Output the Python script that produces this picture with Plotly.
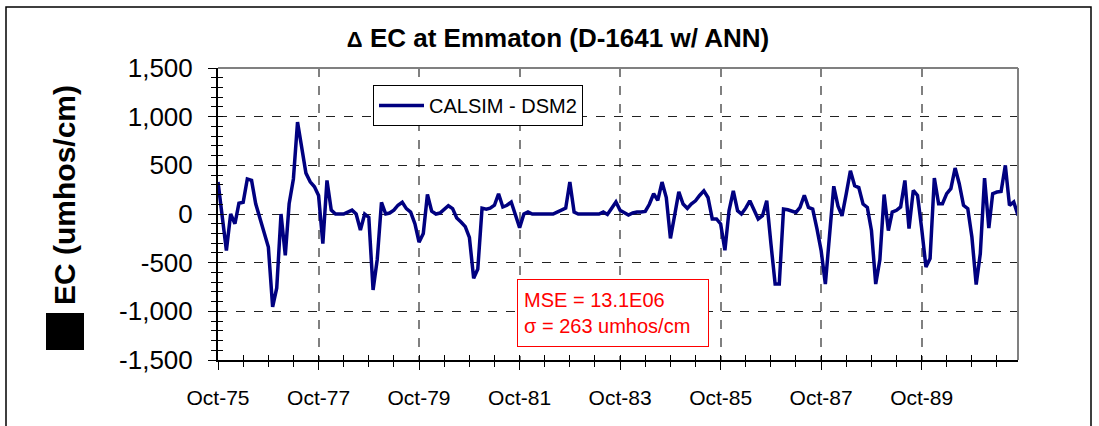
import pandas as pd
import plotly.graph_objects as go

# ---- data (monthly, Oct-75 .. Sep-91), CALSIM minus DSM2 EC at Emmaton ----
start_month = "1975-10-01"
wy1976_1979 = [330, -20, -375, 0, -100, 110, 120, 360, 345, 105,
               -40, -190, -340, -955, -760, 0, -425, 105, 360, 945,
               680, 420, 330, 280, 190, -305, 345, 40, 0, 0,
               0, 20, 40, 0, -165, 0, -35, -780, -470, 120,
               0, 10, 40, 90, 120, 55, 20, -100]
wy1980_1983 = [-290, -200,
               200, 30, 0, 10, 50, 85, 55, -40, -82, -130,
               -240, -660, -565, 60, 50, 60, 90, 208, 72, 90,
               123, -15, -140, 0, 20, 0, 0, 0, 0, 0,
               0, 20, 38, 60, 328, 20, 0, 0, 0, 0,
               0, 0, 20, -5, 60, 123]
wy1984_1987 = [38, 15, -10, 10,
               20, 20, 27, 100, 208, 140, 328, 170, -250, -10,
               227, 102, 58, 102, 136, 190, 237, 170, -51, -51,
               -102, -373, 34, 237, 34, 0, 60, 136, 34, -51,
               -17, 136, -300, -720, -720, 51, 44, 30, 17, 68,
               193, 68, 51, -153]
wy1988_1991 = [-373, -720, -200, 285, 80, -20,
               210, 445, 290, 271, 102, 68, -170, -720, -470, 200,
               -170, 20, 38, 72, 345, -150, 243, 191, -150, -544,
               -458, 369, 106, 106, 209, 260, 472, 311, 89, 55,
               -236, -725, -407, 369, -144, 209, 226, 232, 500, 89,
               123, -14]

x_tick_dates = ["1975-10-01", "1977-10-01", "1979-10-01", "1981-10-01",
                "1983-10-01", "1985-10-01", "1987-10-01", "1989-10-01"]
x_tick_labels = ["Oct-75", "Oct-77", "Oct-79", "Oct-81",
                 "Oct-83", "Oct-85", "Oct-87", "Oct-89"]
y_tick_vals = [-1500, -1000, -500, 0, 500, 1000, 1500]
y_tick_labels = ["-1,500", "-1,000", "-500", "0", "500", "1,000", "1,500"]

series_name = "CALSIM - DSM2"
title_text = "<span style='font-size:22px'>Δ</span> EC at Emmaton (D-1641 w/ ANN)"
y_title = "EC (umhos/cm)"
stats_text = "MSE = 13.1E06<br>σ = 263 umhos/cm"

values = wy1976_1979 + wy1980_1983 + wy1984_1987 + wy1988_1991
months = pd.date_range(start_month, periods=len(values), freq="MS")

# ---- layout geometry (pixels) ----
W, H = 1099, 426
L, R, T, B = 218, 81, 68, 66
PW, PH = W - L - R, H - T - B


def px_x(x):
    return (x - L) / PW


def px_y(y):
    return (H - B - y) / PH


FONT = "Arial, Liberation Sans, sans-serif"
x_range = ["1975-10-01", "1991-09-01"]
y_range = [-1500, 1500]

fig = go.Figure()
fig.add_trace(go.Scatter(x=months, y=values, mode="lines", name=series_name,
                         line=dict(color="#000080", width=3.5)))
# empty trace carrying the overlay axes (inside half of the crossing ticks)
fig.add_trace(go.Scatter(x=[], y=[], xaxis="x2", yaxis="y2", showlegend=False,
                         hoverinfo="skip"))

fig.update_layout(
    width=W, height=H,
    margin=dict(l=L, r=R, t=T, b=B),
    paper_bgcolor="white", plot_bgcolor="white",
    font=dict(family=FONT, color="black"),
    title=dict(text="<b>" + title_text + "</b>", xref="container",
               x=558 / W, xanchor="center",
               y=1 - 38 / H, yanchor="middle", yref="container",
               font=dict(size=26, family=FONT, color="black")),
    showlegend=True,
    legend=dict(x=px_x(373), y=px_y(85), xanchor="left", yanchor="top",
                bgcolor="white", bordercolor="black", borderwidth=1,
                font=dict(size=20, family=FONT, color="black"),
                itemwidth=45),
    xaxis=dict(type="date", range=x_range, tickmode="array",
               tickvals=x_tick_dates, ticktext=x_tick_labels,
               tickfont=dict(size=21, family=FONT, color="black"),
               ticks="outside", ticklen=8, tickcolor="black", tickwidth=1,
               ticklabelstandoff=10,
               showline=True, linecolor="black", linewidth=2,
               showgrid=True, gridcolor="#808080", gridwidth=1.5, griddash="dash",
               minor=dict(dtick="M6", tick0="1975-10-01", ticks="outside",
                          ticklen=5, tickcolor="black", showgrid=False),
               zeroline=False),
    yaxis=dict(range=y_range, tickmode="array", tickvals=y_tick_vals,
               ticktext=y_tick_labels,
               tickfont=dict(size=26, family=FONT, color="black"),
               ticks="outside", ticklen=8, tickcolor="black", tickwidth=1,
               ticklabelstandoff=10,
               showline=True, linecolor="black", linewidth=2,
               showgrid=True, gridcolor="#222222", gridwidth=1, griddash="dash",
               minor=dict(dtick=100, tick0=0, ticks="outside", ticklen=5,
                          tickcolor="black", showgrid=False),
               zeroline=False),
    xaxis2=dict(type="date", overlaying="x", anchor="y", side="bottom",
                range=x_range, showticklabels=False, showgrid=False,
                zeroline=False, showline=False,
                tickmode="array", tickvals=x_tick_dates,
                ticks="inside", ticklen=5, tickcolor="black",
                minor=dict(dtick="M6", tick0="1975-10-01", ticks="inside",
                           ticklen=5, tickcolor="black", showgrid=False)),
    yaxis2=dict(overlaying="y", anchor="x", side="left", range=y_range,
                showticklabels=False, showgrid=False, zeroline=False,
                showline=False, tickmode="array", tickvals=y_tick_vals,
                ticks="inside", ticklen=5, tickcolor="black",
                minor=dict(dtick=100, tick0=0, ticks="inside", ticklen=5,
                           tickcolor="black", showgrid=False)),
)

shapes = [
    # grey top and right border of the plot area
    dict(type="line", xref="paper", yref="paper", x0=0, x1=1, y0=1, y1=1,
         line=dict(color="#808080", width=2)),
    dict(type="line", xref="paper", yref="paper", x0=1, x1=1, y0=0, y1=1,
         line=dict(color="#808080", width=2)),
    # outer chart border
    dict(type="rect", xref="paper", yref="paper",
         x0=px_x(6), x1=px_x(1091), y0=px_y(440), y1=px_y(7),
         line=dict(color="black", width=1.5), layer="below"),
    # filled square standing in for the Delta glyph of the axis title
    dict(type="rect", xref="paper", yref="paper",
         x0=px_x(46), x1=px_x(84), y0=px_y(350), y1=px_y(313),
         line=dict(width=0), fillcolor="black"),
]
fig.update_layout(shapes=shapes)

fig.add_annotation(text="<b>" + y_title + "</b>", xref="paper", yref="paper",
                   x=px_x(64), y=px_y(195), xanchor="center", yanchor="middle",
                   textangle=-90, showarrow=False,
                   font=dict(size=30, family=FONT, color="black"))

fig.add_annotation(text=stats_text, xref="paper", yref="paper",
                   x=px_x(517), y=px_y(279), xanchor="left", yanchor="top",
                   align="left", showarrow=False,
                   bordercolor="#ff0000", borderwidth=1, borderpad=6,
                   bgcolor="white", width=178, height=54,
                   font=dict(size=20, family=FONT, color="#ff0000"))

fig.write_html("out.html",
               config={"displayModeBar": False},
               post_script="document.body.style.margin='0px';")
